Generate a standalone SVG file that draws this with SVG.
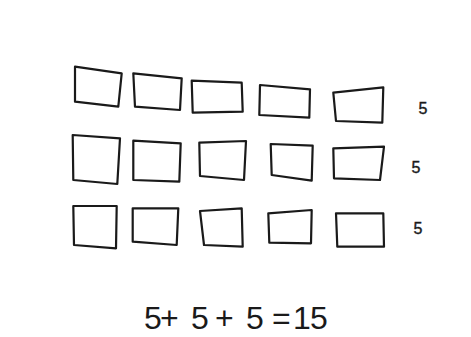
<svg xmlns="http://www.w3.org/2000/svg" width="471" height="337" viewBox="0 0 471 337">
<style>
.b{fill:none;stroke:#1a1a1a;stroke-width:2.2;stroke-linejoin:round;stroke-linecap:round}
.n{font-family:"Liberation Sans",Arial,sans-serif;fill:#1a1a1a;font-size:16px;stroke:#1a1a1a;stroke-width:0.4}
.eq{font-family:"Liberation Sans",Arial,sans-serif;fill:#1a1a1a;font-size:32px}
</style>
<rect width="471" height="337" fill="#fff"/>
<g id="row1">
<path class="b" d="M75,66.7 L121.7,73.3 L118.3,106.7 L75,101.7 Z"/>
<path class="b" d="M133.3,73.3 L181.7,78.3 L180,110 L135,106.7 Z"/>
<path class="b" d="M191.7,80.7 L241.7,82.7 L242.7,111.7 L192.7,112.7 Z"/>
<path class="b" d="M260,85 L310,89.3 L309.3,117.7 L259.3,115 Z"/>
<path class="b" d="M333.3,92.7 L383.3,87.3 L382.3,122.7 L336,121 Z"/>
<text class="n" x="423" y="114" text-anchor="middle">5</text>
</g>
<g id="row2">
<path class="b" d="M72.7,135 L120,138.3 L117.3,184 L73.3,180 Z"/>
<path class="b" d="M133.3,140.7 L180.7,143.3 L179.3,181.7 L133.3,180 Z"/>
<path class="b" d="M199.3,142.7 L246,141 L244,180 L200,176 Z"/>
<path class="b" d="M270.7,144 L312.7,145.7 L311.7,180.7 L271.7,175 Z"/>
<path class="b" d="M333.3,148.3 L384,146.7 L380,180 L334,178.3 Z"/>
<text class="n" x="416" y="173" text-anchor="middle">5</text>
</g>
<g id="row3">
<path class="b" d="M73.3,206 L116.7,206 L116,248.3 L74,245 Z"/>
<path class="b" d="M132.7,208.3 L178.3,208.3 L176.7,245 L132.7,241.7 Z"/>
<path class="b" d="M200,211 L241.7,208.3 L242.7,246.7 L204,245 Z"/>
<path class="b" d="M268.3,213.3 L311.7,210 L311,243.3 L269.3,242.7 Z"/>
<path class="b" d="M336,213.3 L383.3,213.3 L384,246.7 L337.3,246.7 Z"/>
<text class="n" x="418" y="234" text-anchor="middle">5</text>
</g>
<g id="equation">
<text class="eq" x="144 160 191 215 246 272 293 310" y="329">5+5+5=15</text>
</g>
</svg>
